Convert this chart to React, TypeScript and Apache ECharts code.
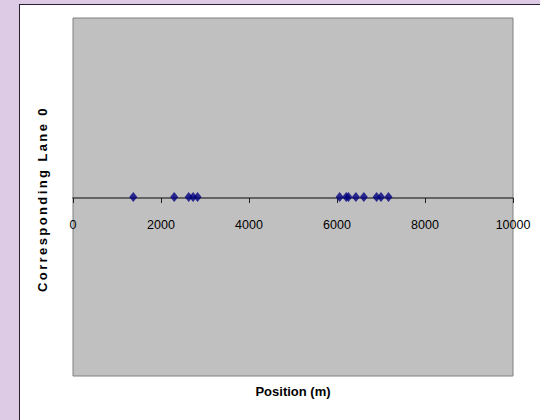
import React, { useEffect, useRef } from "react";
import * as echarts from "echarts";

// Positions (m) of the detections along lane 0
const positions = [1370, 2300, 2630, 2730, 2830, 6060, 6210, 6260, 6430, 6610, 6900, 7000, 7170];
const laneValues = [0, 0, 0, 0, 0, 0, 0, 0, 0, 0, 0, 0, 0];
const xTicks = [0, 2000, 4000, 6000, 8000, 10000];

const X_TITLE = "Position (m)";
const Y_TITLE = "Corresponding Lane 0";
const FONT = "'Liberation Sans', Arial, Helvetica, sans-serif";

const GRID_TOP = 18;
const GRID_HEIGHT = 358;

export default function App() {
  const ref = useRef<HTMLDivElement>(null);

  useEffect(() => {
    if (!ref.current) return;
    const chart = echarts.init(ref.current, null, { renderer: "svg", width: 540, height: 420 });

    const spaceTitle = () => {
      const texts = ref.current?.querySelectorAll("text") || [];
      texts.forEach((t) => {
        if (t.textContent === Y_TITLE) {
          (t as SVGTextElement).style.letterSpacing = "2.4px";
        }
      });
    };

    chart.setOption({
      animation: false,
      backgroundColor: "transparent",
      grid: {
        left: 73,
        top: GRID_TOP,
        width: 440,
        height: GRID_HEIGHT,
        show: true,
        backgroundColor: "#c0c0c0",
        borderColor: "#808080",
        borderWidth: 1,
      },
      xAxis: {
        type: "value",
        position: "bottom",
        // lane 0 sits halfway up the plot, so the axis is lifted onto it
        offset: -(GRID_HEIGHT / 2 - 1),
        min: xTicks[0],
        max: xTicks[xTicks.length - 1],
        interval: xTicks[1] - xTicks[0],
        axisLine: { onZero: false, lineStyle: { color: "#444444", width: 1.5 } },
        axisTick: { show: true, inside: false, length: 5, lineStyle: { color: "#222222", width: 1 } },
        axisLabel: {
          color: "#000000",
          fontSize: 12.5,
          fontFamily: FONT,
          margin: 20,
          showMinLabel: true,
          showMaxLabel: true,
          formatter: (v: number) => String(v),
        },
        splitLine: { show: false },
      },
      yAxis: {
        type: "value",
        min: -1,
        max: 1,
        axisLine: { show: false },
        axisTick: { show: false },
        axisLabel: { show: false },
        splitLine: { show: false },
      },
      graphic: [
        {
          type: "text",
          x: 293,
          y: 391,
          style: {
            text: X_TITLE,
            fill: "#000000",
            font: `bold 13px ${FONT}`,
            textAlign: "center",
            textVerticalAlign: "middle",
          },
        },
        {
          type: "text",
          x: 42,
          y: 199,
          rotation: Math.PI / 2,
          style: {
            text: Y_TITLE,
            fill: "#000000",
            font: `bold 13px ${FONT}`,
            textAlign: "center",
            textVerticalAlign: "middle",
          },
        },
      ],
      series: [
        {
          type: "scatter",
          data: positions.map((p, i) => [p, laneValues[i]]),
          symbol: "diamond",
          symbolSize: [8, 10],
          itemStyle: { color: "#000080" },
          z: 5,
        },
      ],
    });

    spaceTitle();
    chart.on("finished", spaceTitle);

    return () => {
      chart.dispose();
    };
  }, []);

  return (
    <div
      style={{
        position: "fixed",
        left: 0,
        top: 0,
        width: 540,
        height: 420,
        background: "#ddcbe5",
        overflow: "hidden",
      }}
    >
      <div
        style={{
          position: "absolute",
          left: 19,
          top: 4,
          width: 540,
          height: 430,
          background: "#ffffff",
          borderTop: "1px solid #2a2030",
          borderLeft: "1px solid #2a2030",
        }}
      />
      <div ref={ref} style={{ position: "absolute", left: 0, top: 0, width: 540, height: 420 }} />
    </div>
  );
}
